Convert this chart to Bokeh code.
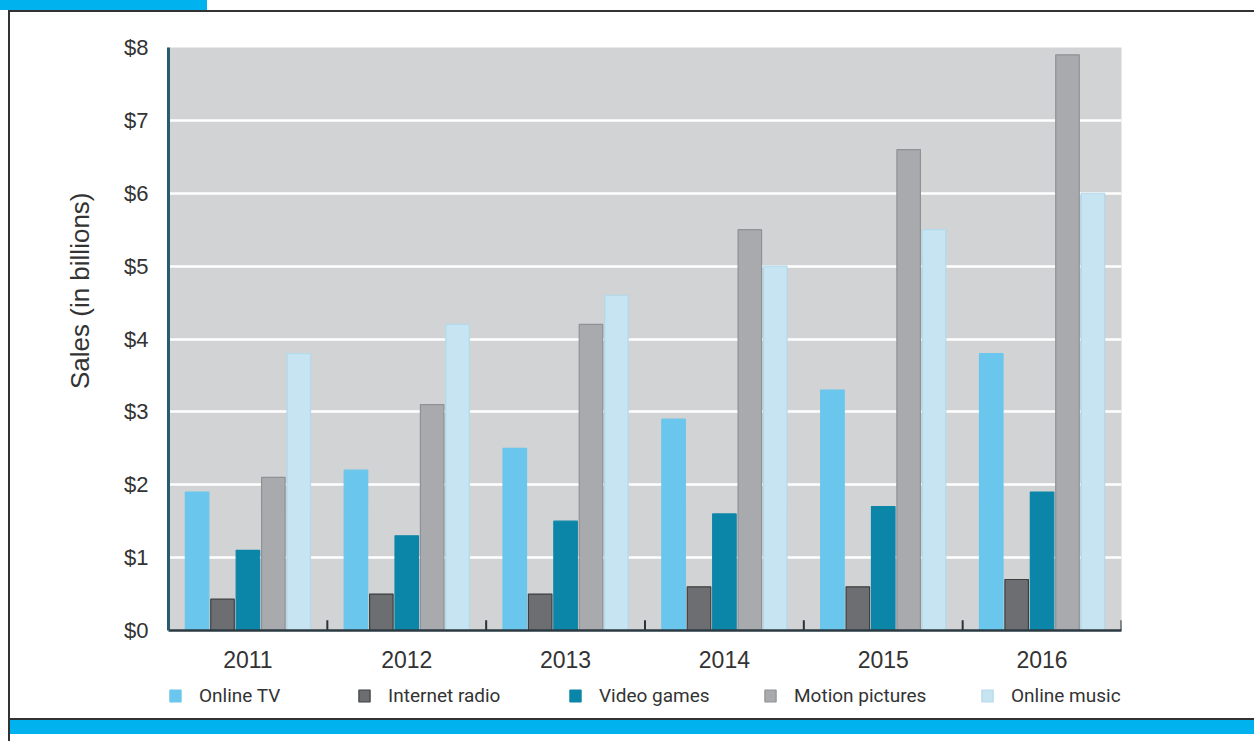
from bokeh.plotting import figure
from bokeh.models import (ColumnDataSource, FactorRange, Legend, LegendItem,
                          NumeralTickFormatter, FixedTicker, Div, Range1d, Title)
from bokeh.layouts import column, row
from bokeh.transform import dodge
from bokeh.embed import file_html
from bokeh.resources import INLINE

years = ["2011", "2012", "2013", "2014", "2015", "2016"]
series = ["Online TV", "Internet radio", "Video games", "Motion pictures", "Online music"]
online_tv = [1.9, 2.2, 2.5, 2.9, 3.3, 3.8]
internet_radio = [0.43, 0.5, 0.5, 0.6, 0.6, 0.7]
video_games = [1.1, 1.3, 1.5, 1.6, 1.7, 1.9]
motion_pictures = [2.1, 3.1, 4.2, 5.5, 6.6, 7.9]
online_music = [3.8, 4.2, 4.6, 5.0, 5.5, 6.0]
y_ticks = [0, 1, 2, 3, 4, 5, 6, 7, 8]

fills = ["#6ac6ec", "#6d6e71", "#0c86a8", "#a8aaad", "#c6e4f1"]
lines = ["#6ac6ec", "#3d3e40", "#0c86a8", "#8f9194", "#b3d9ea"]

src = ColumnDataSource(dict(years=years, tv=online_tv, radio=internet_radio,
                            vg=video_games, mp=motion_pictures, om=online_music,
                            base=[0] * len(years), tick=[0.14] * len(years)))

W, H = 1244, 662
p = figure(x_range=FactorRange(*years, range_padding=0), y_range=(0, 8),
           width=W, height=H, output_backend="svg", toolbar_location=None,
           min_border_left=158, min_border_right=133, min_border_top=35,
           min_border_bottom=44)
p.background_fill_color = "#d1d3d4"
p.border_fill_color = "white"
p.outline_line_color = None

keys = ["tv", "radio", "vg", "mp", "om"]
offsets = [-0.32, -0.16, 0.0, 0.16, 0.32]
for k, off, f, lc in zip(keys, offsets, fills, lines):
    p.vbar(x=dodge("years", off, range=p.x_range), top=k, width=0.148,
           source=src, fill_color=f, line_color=lc, line_width=1.2)

# group boundary ticks
p.segment(x0=dodge("years", 0.5, range=p.x_range), y0="base",
          x1=dodge("years", 0.5, range=p.x_range), y1="tick",
          source=src, line_color="#2b3338", line_width=2)

p.xgrid.grid_line_color = None
p.ygrid.grid_line_color = "white"
p.ygrid.grid_line_width = 2.5
p.yaxis.ticker = FixedTicker(ticks=y_ticks)
p.yaxis.formatter = NumeralTickFormatter(format="$0")
p.yaxis.major_tick_line_color = None
p.yaxis.minor_tick_line_color = None
p.yaxis.axis_line_color = "#2a5b70"
p.yaxis.axis_line_width = 3
p.yaxis.major_label_text_font = "Liberation Sans"
p.yaxis.major_label_text_font_size = "22px"
p.yaxis.major_label_text_color = "#333333"
p.yaxis.major_label_standoff = 14

ytitle = Title(text="Sales (in billions)", align="right", offset=145,
               text_font="Liberation Sans", text_font_size="26px",
               text_font_style="normal", text_color="#333333", standoff=54)
p.add_layout(ytitle, "left")

p.xaxis.major_tick_line_color = None
p.xaxis.axis_line_color = "#2b3a42"
p.xaxis.axis_line_width = 2.5
p.xaxis.major_label_text_font = "Liberation Sans"
p.xaxis.major_label_text_font_size = "23px"
p.xaxis.major_label_text_color = "#333333"
p.xaxis.major_label_standoff = 14

# legend strip (renderers drawn off-range so only legend swatches show)
LH = 44
lg = figure(width=W, height=LH, output_backend="svg", toolbar_location=None,
            x_range=FactorRange(*years), y_range=Range1d(100, 101),
            x_axis_location=None, y_axis_location=None,
            min_border=0, min_border_left=0, min_border_right=0,
            min_border_top=0, min_border_bottom=0)
lg.grid.visible = False
lg.outline_line_color = None
lg.border_fill_color = "white"
lg.background_fill_color = "white"
legend_x = [0, 189, 400, 595, 812]
for name, k, f, lc, lx in zip(series, keys, fills, lines, legend_x):
    r = lg.vbar(x="years", top=k, width=0.1, source=src,
                fill_color=f, line_color=lc, line_width=1.2)
    lg.add_layout(Legend(items=[LegendItem(label=name, renderers=[r])],
                         location=(lx, 11), orientation="horizontal",
                         glyph_width=14, glyph_height=15, label_height=20,
                         label_standoff=17, label_text_font="Roboto",
                         label_text_font_size="19px", label_text_color="#333333",
                         label_text_baseline="middle",
                         border_line_color=None, background_fill_alpha=0,
                         padding=0, margin=0))

top_div = Div(text='<div style="width:207px;height:10px;background:#00b2ee"></div>'
                   '<div style="margin-left:8px;width:1246px;height:2px;background:#333333"></div>',
              width=1254, height=12, margin=0,
              styles={"padding": "0", "margin": "0", "line-height": "0"})
left_div = Div(text='<div style="margin-left:8px;width:2px;height:%dpx;background:#333333"></div>' % (H + LH),
               width=10, height=H + LH, margin=0,
               styles={"padding": "0", "margin": "0", "line-height": "0"})
bottom_div = Div(text='<div style="margin-left:8px;width:1246px;height:2px;background:#333333"></div>'
                      '<div style="margin-left:8px;width:1246px;height:14px;background:#00b2ee;'
                      'border-left:2px solid #333333;box-sizing:border-box"></div>'
                      '<div style="margin-left:8px;width:2px;height:7px;background:#333333"></div>',
                 width=1254, height=23, margin=0,
                 styles={"padding": "0", "margin": "0", "line-height": "0"})

layout = column(top_div, row(left_div, column(p, lg, spacing=0), spacing=0),
                bottom_div, spacing=0)

open("out.html", "w").write(file_html(layout, INLINE))
